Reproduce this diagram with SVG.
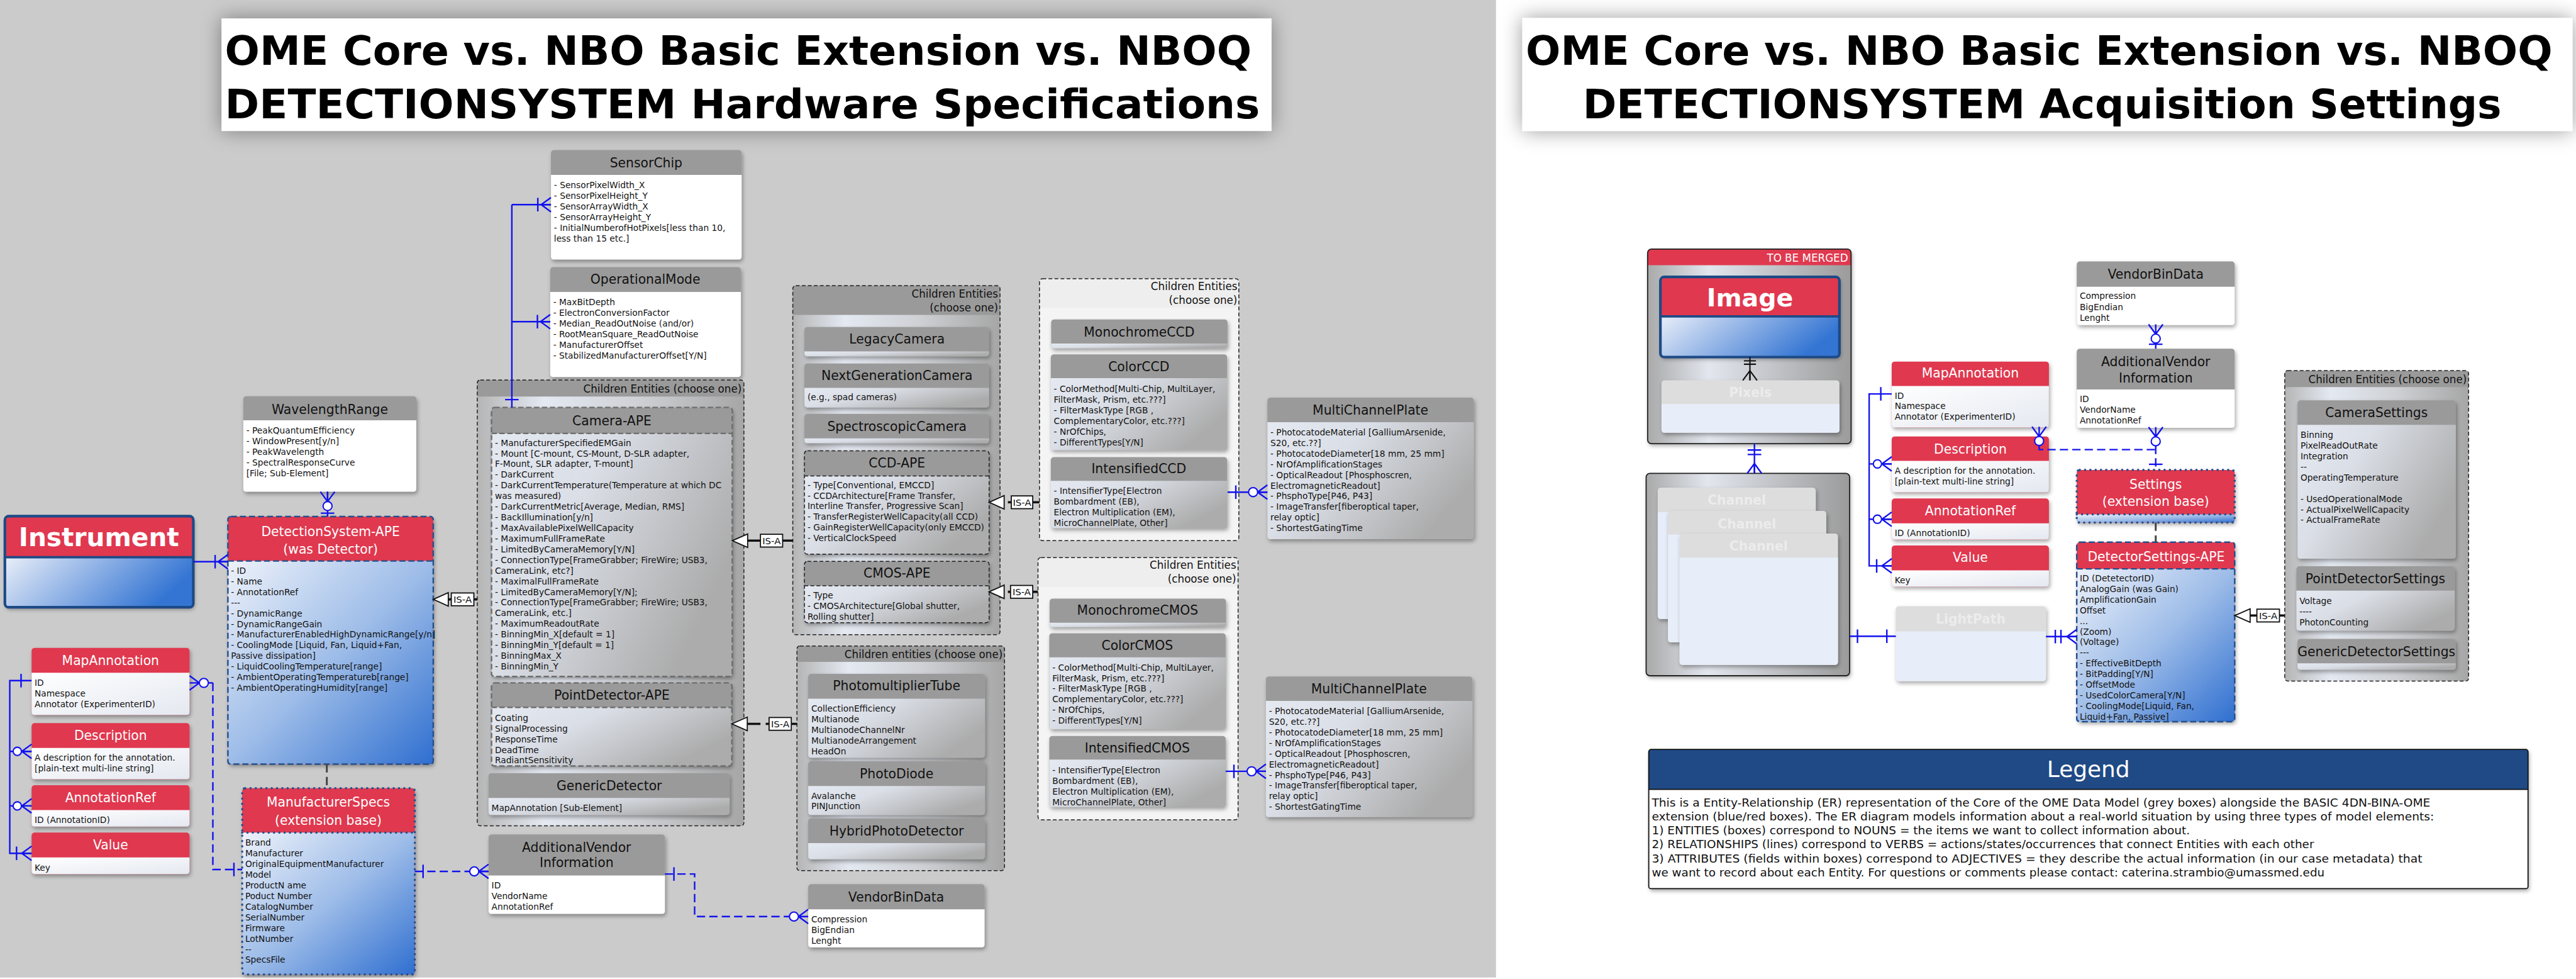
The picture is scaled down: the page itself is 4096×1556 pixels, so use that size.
<svg xmlns="http://www.w3.org/2000/svg" width="4096" height="1556" viewBox="0 0 4096 1556">
<style>
text{font-family:"DejaVu Sans","Liberation Sans",sans-serif}
.hr{fill:#e0394f}
.hg{fill:#9a9a9a}
.tw{fill:#fff;font-size:34px;text-anchor:middle}
.tb{fill:#111;font-size:34px;text-anchor:middle}
.tf{fill:#ececec;font-size:34px;font-weight:bold;text-anchor:middle}
.a{fill:#111;font-size:23px}
.ch{fill:#111;font-size:28px;text-anchor:end}
.cn{fill:none;stroke:#1212ee;stroke-width:4}
.dsh{stroke-dasharray:22 11}
.ci{fill:#fff;stroke:#1212ee;stroke-width:3.5}
.il{fill:none;stroke:#111;stroke-width:6}
.tri{fill:#fff;stroke:#111;stroke-width:3}
.lb{fill:#fff;stroke:#111;stroke-width:3}
.lt{fill:#111;font-size:25px;text-anchor:middle}
.bdB{fill:none;stroke:#1d4a86;stroke-width:7}
.bdD{fill:none;stroke:#23508c;stroke-width:4;stroke-dasharray:16 8}
.bdO{fill:none;stroke:#23508c;stroke-width:6;stroke-dasharray:0.1 14;stroke-linecap:round}
.bdG{fill:none;stroke:#6e6e6e;stroke-width:4;stroke-dasharray:14 7}
.bdK{fill:none;stroke:#222;stroke-width:2.5;stroke-dasharray:10 6}
.gd{fill:none;stroke:#444;stroke-width:5;stroke-dasharray:22 12}
.lg{fill:#111;font-size:29px}
.tt{font-weight:bold;text-anchor:middle;fill:#000}
</style>
<defs>
<linearGradient id="gB" x1="0" y1="0" x2="1" y2="1"><stop offset="0" stop-color="#eef2fa"/><stop offset="0.5" stop-color="#9dbce8"/><stop offset="1" stop-color="#2f6fd0"/></linearGradient>
<linearGradient id="gBh" x1="0" y1="0" x2="1" y2="0.3"><stop offset="0" stop-color="#e9eef8"/><stop offset="1" stop-color="#3475d3"/></linearGradient>
<linearGradient id="gG" x1="0" y1="0" x2="1" y2="0.5"><stop offset="0" stop-color="#e5e9f1"/><stop offset="0.4" stop-color="#dadee6"/><stop offset="1" stop-color="#acacac"/></linearGradient>
<linearGradient id="gCh" x1="0" y1="0" x2="1" y2="0"><stop offset="0" stop-color="#b5b5b5"/><stop offset="0.25" stop-color="#e4e9f2"/><stop offset="0.6" stop-color="#cfd1d5"/><stop offset="1" stop-color="#a6a6a6"/></linearGradient>
<linearGradient id="gM" x1="0" y1="0" x2="1" y2="0"><stop offset="0" stop-color="#a9a9a9"/><stop offset="0.3" stop-color="#e2e6ee"/><stop offset="1" stop-color="#9b9b9b"/></linearGradient>
<linearGradient id="gW" x1="0" y1="0" x2="1" y2="1"><stop offset="0" stop-color="#ffffff"/><stop offset="1" stop-color="#e4e8f0"/></linearGradient>
<filter id="sh" x="-5%" y="-5%" width="115%" height="125%"><feDropShadow dx="3" dy="6" stdDeviation="5" flood-color="#000" flood-opacity="0.35"/></filter>
<filter id="sh2" x="-5%" y="-40%" width="110%" height="180%"><feDropShadow dx="0" dy="0" stdDeviation="28" flood-color="#000" flood-opacity="0.4"/></filter>
<path id="crow" d="M0,0 L26,-19 M0,0 L26,0 M0,0 L26,19"/>
<clipPath id="dsClip"><rect x="5522" y="1441" width="420" height="474"/></clipPath>
</defs>
<g transform="scale(0.598)">
<rect x="0" y="0" width="3978" height="2598" fill="#cbcbcb"/>
<rect x="3978" y="0" width="2862" height="2598" fill="#ffffff"/>

<!-- titles -->
<g id="title-left">
<rect x="589" y="49" width="2792" height="299" fill="#fff" filter="url(#sh2)"/>
<text class="tt" x="1963" y="173" font-size="108" textLength="2730" lengthAdjust="spacingAndGlyphs">OME Core vs. NBO Basic Extension vs. NBOQ</text>
<text class="tt" x="1974" y="315" font-size="108" textLength="2752" lengthAdjust="spacingAndGlyphs">DETECTIONSYSTEM Hardware Specifications</text>
</g>
<g id="title-right">
<rect x="4048" y="48" width="2792" height="300" fill="#fff" filter="url(#sh2)"/>
<text class="tt" x="5422" y="173" font-size="108" textLength="2730" lengthAdjust="spacingAndGlyphs">OME Core vs. NBO Basic Extension vs. NBOQ</text>
<text class="tt" x="5430" y="315" font-size="106" textLength="2443" lengthAdjust="spacingAndGlyphs">DETECTIONSYSTEM Acquisition Settings</text>
</g>

<!-- LEFT PANEL NODES -->
<g id="WavelengthRange">
<rect x="647" y="1053" width="460" height="254" rx="8" class="hg" filter="url(#sh)"/>
<path d="M647,1117 H1107 V1299 Q1107,1307 1099,1307 H655 Q647,1307 647,1299 Z" fill="#fff"/>
<text class="tb" x="877" y="1100">WavelengthRange</text>
<text class="a" y="1152"><tspan x="655">- PeakQuantumEfficiency</tspan><tspan x="655" dy="28.3">- WindowPresent[y/n]</tspan><tspan x="655" dy="28.3">- PeakWavelength</tspan><tspan x="655" dy="28.3">- SpectralResponseCurve</tspan><tspan x="655" dy="28.3">[File; Sub-Element]</tspan></text>
</g>

<g id="Instrument">
<rect x="13" y="1372" width="501" height="242" rx="10" class="hr" filter="url(#sh)"/>
<path d="M13,1481 H514 V1606 Q514,1614 506,1614 H21 Q13,1614 13,1606 Z" fill="url(#gBh)"/>
<rect x="13" y="1372" width="501" height="242" rx="10" class="bdB"/>
<path d="M13,1481 H514" stroke="#1d4a86" stroke-width="6"/>
<text x="263" y="1452" font-size="68" font-weight="bold" fill="#fff" text-anchor="middle">Instrument</text>
</g>

<g id="DetectionSystem-APE">
<rect x="606" y="1373" width="546" height="658" rx="8" class="hr" filter="url(#sh)"/>
<path d="M606,1491 H1152 V2023 Q1152,2031 1144,2031 H614 Q606,2031 606,2023 Z" fill="url(#gB)"/>
<rect x="606" y="1373" width="546" height="658" rx="8" class="bdD"/>
<path d="M606,1491 H1152" class="bdD"/>
<text class="tw" x="879" y="1424" font-size="38">DetectionSystem-APE</text>
<text class="tw" x="879" y="1471" font-size="38">(was Detector)</text>
<text class="a" y="1525"><tspan x="614">- ID</tspan><tspan x="614" dy="28.3">- Name</tspan><tspan x="614" dy="28.3">- AnnotationRef</tspan><tspan x="614" dy="28.3">---</tspan><tspan x="614" dy="28.3">- DynamicRange</tspan><tspan x="614" dy="28.3">- DynamicRangeGain</tspan><tspan x="614" dy="28.3">- ManufacturerEnabledHighDynamicRange[y/n]</tspan><tspan x="614" dy="28.3">- CoolingMode [Liquid, Fan, Liquid+Fan,</tspan><tspan x="614" dy="28.3">Passive dissipation]</tspan><tspan x="614" dy="28.3">- LiquidCoolingTemperature[range]</tspan><tspan x="614" dy="28.3">- AmbientOperatingTemperatureb[range]</tspan><tspan x="614" dy="28.3">- AmbientOperatingHumidity[range]</tspan></text>
</g>

<g id="MapAnnotation-L">
<rect x="84" y="1722" width="420" height="178" rx="8" class="hr" filter="url(#sh)"/>
<path d="M84,1788 H504 V1892 Q504,1900 496,1900 H92 Q84,1900 84,1892 Z" fill="url(#gW)"/>
<text class="tw" x="294" y="1767">MapAnnotation</text>
<text class="a" y="1823"><tspan x="92">ID</tspan><tspan x="92" dy="28.3">Namespace</tspan><tspan x="92" dy="28.3">Annotator (ExperimenterID)</tspan></text>
</g>
<g id="Description-L">
<rect x="84" y="1922" width="420" height="149" rx="8" class="hr" filter="url(#sh)"/>
<path d="M84,1988 H504 V2063 Q504,2071 496,2071 H92 Q84,2071 84,2063 Z" fill="url(#gW)"/>
<text class="tw" x="294" y="1967">Description</text>
<text class="a" y="2022"><tspan x="92">A description for the annotation.</tspan><tspan x="92" dy="28.3">[plain-text multi-line string]</tspan></text>
</g>
<g id="AnnotationRef-L">
<rect x="84" y="2087" width="420" height="110" rx="8" class="hr" filter="url(#sh)"/>
<path d="M84,2153 H504 V2189 Q504,2197 496,2197 H92 Q84,2197 84,2189 Z" fill="url(#gW)"/>
<text class="tw" x="294" y="2132">AnnotationRef</text>
<text class="a" x="92" y="2188">ID (AnnotationID)</text>
</g>
<g id="Value-L">
<rect x="84" y="2213" width="420" height="110" rx="8" class="hr" filter="url(#sh)"/>
<path d="M84,2279 H504 V2315 Q504,2323 496,2323 H92 Q84,2323 84,2315 Z" fill="url(#gW)"/>
<text class="tw" x="294" y="2258">Value</text>
<text class="a" x="92" y="2314">Key</text>
</g>

<g id="ManufacturerSpecs">
<rect x="644" y="2095" width="459" height="495" rx="8" class="hr" filter="url(#sh)"/>
<path d="M644,2213 H1103 V2582 Q1103,2590 1095,2590 H652 Q644,2590 644,2582 Z" fill="url(#gB)"/>
<rect x="644" y="2095" width="459" height="495" rx="8" class="bdO"/>
<path d="M644,2213 H1103" class="bdO"/>
<text class="tw" x="873" y="2144" font-size="38">ManufacturerSpecs</text>
<text class="tw" x="873" y="2192" font-size="38">(extension base)</text>
<text class="a" y="2248"><tspan x="652">Brand</tspan><tspan x="652" dy="28.3">Manufacturer</tspan><tspan x="652" dy="28.3">OriginalEquipmentManufacturer</tspan><tspan x="652" dy="28.3">Model</tspan><tspan x="652" dy="28.3">ProductN ame</tspan><tspan x="652" dy="28.3">Poduct Number</tspan><tspan x="652" dy="28.3">CatalogNumber</tspan><tspan x="652" dy="28.3">SerialNumber</tspan><tspan x="652" dy="28.3">Firmware</tspan><tspan x="652" dy="28.3">LotNumber</tspan><tspan x="652" dy="28.3">--</tspan><tspan x="652" dy="28.3">SpecsFile</tspan></text>
</g>

<g id="SensorChip">
<rect x="1465" y="399" width="507" height="291" rx="8" class="hg" filter="url(#sh)"/>
<path d="M1465,465 H1972 V682 Q1972,690 1964,690 H1473 Q1465,690 1465,682 Z" fill="#fff"/>
<text class="tb" x="1718" y="445">SensorChip</text>
<text class="a" y="500"><tspan x="1473">- SensorPixelWidth_X</tspan><tspan x="1473" dy="28.3">- SensorPixelHeight_Y</tspan><tspan x="1473" dy="28.3">- SensorArrayWidth_X</tspan><tspan x="1473" dy="28.3">- SensorArrayHeight_Y</tspan><tspan x="1473" dy="28.3">- InitialNumberofHotPixels[less than 10,</tspan><tspan x="1473" dy="28.3">less than 15 etc.]</tspan></text>
</g>

<g id="OperationalMode">
<rect x="1463" y="710" width="507" height="292" rx="8" class="hg" filter="url(#sh)"/>
<path d="M1463,776 H1970 V994 Q1970,1002 1962,1002 H1471 Q1463,1002 1463,994 Z" fill="#fff"/>
<text class="tb" x="1716" y="755">OperationalMode</text>
<text class="a" y="811"><tspan x="1471">- MaxBitDepth</tspan><tspan x="1471" dy="28.3">- ElectronConversionFactor</tspan><tspan x="1471" dy="28.3">- Median_ReadOutNoise (and/or)</tspan><tspan x="1471" dy="28.3">- RootMeanSquare_ReadOutNoise</tspan><tspan x="1471" dy="28.3">- ManufacturerOffset</tspan><tspan x="1471" dy="28.3">- StabilizedManufacturerOffset[Y/N]</tspan></text>
</g>

<g id="Children-Detector">
<rect x="1269" y="1010" width="709" height="1185" rx="8" fill="url(#gCh)"/>
<path d="M1269,1054 V1018 Q1269,1010 1277,1010 H1970 Q1978,1010 1978,1018 V1054 Z" class="hg"/>
<rect x="1269" y="1010" width="709" height="1185" rx="8" class="bdK"/>
<text class="ch" x="1972" y="1043">Children Entities (choose one)</text>
</g>

<g id="Camera-APE">
<rect x="1307" y="1083" width="640" height="715" rx="8" class="hg" filter="url(#sh)"/>
<path d="M1307,1152 H1947 V1790 Q1947,1798 1939,1798 H1315 Q1307,1798 1307,1790 Z" fill="url(#gG)"/>
<rect x="1307" y="1083" width="640" height="715" rx="8" class="bdG"/>
<path d="M1307,1152 H1947" class="bdG"/>
<text class="tb" x="1627" y="1131" font-size="35">Camera-APE</text>
<text class="a" y="1185"><tspan x="1316">- ManufacturerSpecifiedEMGain</tspan><tspan x="1316" dy="28.3">- Mount [C-mount, CS-Mount, D-SLR adapter,</tspan><tspan x="1316" dy="28.3">F-Mount, SLR adapter, T-mount]</tspan><tspan x="1316" dy="28.3">- DarkCurrent</tspan><tspan x="1316" dy="28.3">- DarkCurrentTemperature(Temperature at which DC</tspan><tspan x="1316" dy="28.3">was measured)</tspan><tspan x="1316" dy="28.3">- DarkCurrentMetric[Average, Median, RMS]</tspan><tspan x="1316" dy="28.3">- BackIllumination[y/n]</tspan><tspan x="1316" dy="28.3">- MaxAvailablePixelWellCapacity</tspan><tspan x="1316" dy="28.3">- MaximumFullFrameRate</tspan><tspan x="1316" dy="28.3">- LimitedByCameraMemory[Y/N]</tspan><tspan x="1316" dy="28.3">- ConnectionType[FrameGrabber; FireWire; USB3,</tspan><tspan x="1316" dy="28.3">CameraLink, etc?]</tspan><tspan x="1316" dy="28.3">- MaximalFullFrameRate</tspan><tspan x="1316" dy="28.3">- LimitedByCameraMemory[Y/N];</tspan><tspan x="1316" dy="28.3">- ConnectionType[FrameGrabber; FireWire; USB3,</tspan><tspan x="1316" dy="28.3">CameraLink, etc.]</tspan><tspan x="1316" dy="28.3">- MaximumReadoutRate</tspan><tspan x="1316" dy="28.3">- BinningMin_X[default = 1]</tspan><tspan x="1316" dy="28.3">- BinningMin_Y[default = 1]</tspan><tspan x="1316" dy="28.3">- BinningMax_X</tspan><tspan x="1316" dy="28.3">- BinningMin_Y</tspan></text>
</g>

<g id="PointDetector-APE">
<rect x="1307" y="1815" width="639" height="221" rx="8" class="hg" filter="url(#sh)"/>
<path d="M1307,1880 H1946 V2028 Q1946,2036 1938,2036 H1315 Q1307,2036 1307,2028 Z" fill="url(#gG)"/>
<rect x="1307" y="1815" width="639" height="221" rx="8" class="bdG"/>
<path d="M1307,1880 H1946" class="bdG"/>
<text class="tb" x="1627" y="1860" font-size="35">PointDetector-APE</text>
<text class="a" y="1916"><tspan x="1316">Coating</tspan><tspan x="1316" dy="28.3">SignalProcessing</tspan><tspan x="1316" dy="28.3">ResponseTime</tspan><tspan x="1316" dy="28.3">DeadTime</tspan><tspan x="1316" dy="28.3">RadiantSensitivity</tspan></text>
</g>

<g id="GenericDetector">
<rect x="1299" y="2055" width="641" height="111" rx="8" class="hg" filter="url(#sh)"/>
<path d="M1299,2121 H1940 V2158 Q1940,2166 1932,2166 H1307 Q1299,2166 1299,2158 Z" fill="url(#gG)"/>
<text class="tb" x="1620" y="2101" font-size="35">GenericDetector</text>
<text class="a" x="1307" y="2156">MapAnnotation [Sub-Element]</text>
</g>

<g id="Children-Camera">
<rect x="2108" y="759" width="551" height="928" rx="8" fill="url(#gCh)"/>
<path d="M2108,837 V767 Q2108,759 2116,759 H2651 Q2659,759 2659,767 V837 Z" class="hg"/>
<rect x="2108" y="759" width="551" height="928" rx="8" class="bdK"/>
<text class="ch" x="2654" y="791">Children Entities</text>
<text class="ch" x="2654" y="827">(choose one)</text>
</g>

<g id="LegacyCamera">
<rect x="2139" y="869" width="491" height="78" rx="8" class="hg" filter="url(#sh)"/>
<path d="M2139,934 H2630 V939 Q2630,947 2622,947 H2147 Q2139,947 2139,939 Z" fill="url(#gG)"/>
<text class="tb" x="2385" y="913">LegacyCamera</text>
</g>
<g id="NextGenerationCamera">
<rect x="2139" y="966" width="491" height="117" rx="8" class="hg" filter="url(#sh)"/>
<path d="M2139,1031 H2630 V1075 Q2630,1083 2622,1083 H2147 Q2139,1083 2139,1075 Z" fill="url(#gG)"/>
<text class="tb" x="2385" y="1010">NextGenerationCamera</text>
<text class="a" x="2147" y="1064">(e.g., spad cameras)</text>
</g>
<g id="SpectroscopicCamera">
<rect x="2139" y="1100" width="491" height="78" rx="8" class="hg" filter="url(#sh)"/>
<path d="M2139,1165 H2630 V1170 Q2630,1178 2622,1178 H2147 Q2139,1178 2139,1170 Z" fill="url(#gG)"/>
<text class="tb" x="2385" y="1145">SpectroscopicCamera</text>
</g>
<g id="CCD-APE">
<rect x="2139" y="1198" width="491" height="275" rx="8" class="hg" filter="url(#sh)"/>
<path d="M2139,1265 H2630 V1465 Q2630,1473 2622,1473 H2147 Q2139,1473 2139,1465 Z" fill="url(#gG)"/>
<rect x="2139" y="1198" width="491" height="275" rx="8" class="bdK"/>
<path d="M2139,1265 H2630" class="bdK"/>
<text class="tb" x="2385" y="1242" font-size="35">CCD-APE</text>
<text class="a" y="1297"><tspan x="2147">- Type[Conventional, EMCCD]</tspan><tspan x="2147" dy="28.3">- CCDArchitecture[Frame Transfer,</tspan><tspan x="2147" dy="28.3">Interline Transfer, Progressive Scan]</tspan><tspan x="2147" dy="28.3">- TransferRegisterWellCapacity(all CCD)</tspan><tspan x="2147" dy="28.3">- GainRegisterWellCapacity(only EMCCD)</tspan><tspan x="2147" dy="28.3">- VerticalClockSpeed</tspan></text>
</g>
<g id="CMOS-APE">
<rect x="2139" y="1492" width="491" height="163" rx="8" class="hg" filter="url(#sh)"/>
<path d="M2139,1557 H2630 V1647 Q2630,1655 2622,1655 H2147 Q2139,1655 2139,1647 Z" fill="url(#gG)"/>
<rect x="2139" y="1492" width="491" height="163" rx="8" class="bdK"/>
<path d="M2139,1557 H2630" class="bdK"/>
<text class="tb" x="2385" y="1535" font-size="35">CMOS-APE</text>
<text class="a" y="1591"><tspan x="2147">- Type</tspan><tspan x="2147" dy="28.3">- CMOSArchitecture[Global shutter,</tspan><tspan x="2147" dy="28.3">Rolling shutter]</tspan></text>
</g>

<g id="Children-PointDetector">
<rect x="2119" y="1717" width="552" height="597" rx="8" fill="url(#gCh)"/>
<path d="M2119,1759 V1725 Q2119,1717 2127,1717 H2663 Q2671,1717 2671,1725 V1759 Z" class="hg"/>
<rect x="2119" y="1717" width="552" height="597" rx="8" class="bdK"/>
<text class="ch" x="2666" y="1749">Children entities (choose one)</text>
</g>
<g id="PhotomultiplierTube">
<rect x="2149" y="1791" width="470" height="223" rx="8" class="hg" filter="url(#sh)"/>
<path d="M2149,1857 H2619 V2006 Q2619,2014 2611,2014 H2157 Q2149,2014 2149,2006 Z" fill="url(#gG)"/>
<text class="tb" x="2384" y="1835">PhotomultiplierTube</text>
<text class="a" y="1892"><tspan x="2157">CollectionEfficiency</tspan><tspan x="2157" dy="28.3">Multianode</tspan><tspan x="2157" dy="28.3">MultianodeChannelNr</tspan><tspan x="2157" dy="28.3">MultianodeArrangement</tspan><tspan x="2157" dy="28.3">HeadOn</tspan></text>
</g>
<g id="PhotoDiode">
<rect x="2149" y="2023" width="470" height="143" rx="8" class="hg" filter="url(#sh)"/>
<path d="M2149,2089 H2619 V2158 Q2619,2166 2611,2166 H2157 Q2149,2166 2149,2158 Z" fill="url(#gG)"/>
<text class="tb" x="2384" y="2068">PhotoDiode</text>
<text class="a" y="2123"><tspan x="2157">Avalanche</tspan><tspan x="2157" dy="28.3">PINJunction</tspan></text>
</g>
<g id="HybridPhotoDetector">
<rect x="2149" y="2175" width="470" height="109" rx="8" class="hg" filter="url(#sh)"/>
<path d="M2149,2241 H2619 V2276 Q2619,2284 2611,2284 H2157 Q2149,2284 2149,2276 Z" fill="url(#gG)"/>
<text class="tb" x="2384" y="2220">HybridPhotoDetector</text>
</g>

<g id="Children-CCD">
<rect x="2764" y="741" width="530" height="696" rx="8" fill="#f4f4f4"/>
<path d="M2764,818 V749 Q2764,741 2772,741 H3286 Q3294,741 3294,749 V818 Z" fill="#eeeeee"/>
<rect x="2764" y="741" width="530" height="696" rx="8" class="bdK"/>
<text class="ch" x="3290" y="771">Children Entities</text>
<text class="ch" x="3290" y="807">(choose one)</text>
</g>
<g id="MonochromeCCD">
<rect x="2795" y="849" width="469" height="77" rx="8" class="hg" filter="url(#sh)"/>
<path d="M2795,913 H3264 V918 Q3264,926 3256,926 H2803 Q2795,926 2795,918 Z" fill="url(#gG)"/>
<text class="tb" x="3029" y="894">MonochromeCCD</text>
</g>
<g id="ColorCCD">
<rect x="2794" y="942" width="469" height="254" rx="8" class="hg" filter="url(#sh)"/>
<path d="M2794,1005 H3263 V1188 Q3263,1196 3255,1196 H2802 Q2794,1196 2794,1188 Z" fill="url(#gG)"/>
<text class="tb" x="3028" y="986">ColorCCD</text>
<text class="a" y="1042"><tspan x="2802">- ColorMethod[Multi-Chip, MultiLayer,</tspan><tspan x="2802" dy="28.3">FilterMask, Prism, etc.???]</tspan><tspan x="2802" dy="28.3">- FilterMaskType [RGB ,</tspan><tspan x="2802" dy="28.3">ComplementaryColor, etc.???]</tspan><tspan x="2802" dy="28.3">- NrOfChips,</tspan><tspan x="2802" dy="28.3">- DifferentTypes[Y/N]</tspan></text>
</g>
<g id="IntensifiedCCD">
<rect x="2794" y="1215" width="469" height="189" rx="8" class="hg" filter="url(#sh)"/>
<path d="M2794,1278 H3263 V1396 Q3263,1404 3255,1404 H2802 Q2794,1404 2794,1396 Z" fill="url(#gG)"/>
<text class="tb" x="3028" y="1258">IntensifiedCCD</text>
<text class="a" y="1313"><tspan x="2802">- IntensifierType[Electron</tspan><tspan x="2802" dy="28.3">Bombardment (EB),</tspan><tspan x="2802" dy="28.3">Electron Multiplication (EM),</tspan><tspan x="2802" dy="28.3">MicroChannelPlate, Other]</tspan></text>
</g>
<g id="MultiChannelPlate-1">
<rect x="3370" y="1057" width="549" height="376" rx="8" class="hg" filter="url(#sh)"/>
<path d="M3370,1122 H3919 V1425 Q3919,1433 3911,1433 H3378 Q3370,1433 3370,1425 Z" fill="url(#gG)"/>
<text class="tb" x="3644" y="1102">MultiChannelPlate</text>
<text class="a" y="1157"><tspan x="3378">- PhotocatodeMaterial [GalliumArsenide,</tspan><tspan x="3378" dy="28.3">S20, etc.??]</tspan><tspan x="3378" dy="28.3">- PhotocatodeDiameter[18 mm, 25 mm]</tspan><tspan x="3378" dy="28.3">- NrOfAmplificationStages</tspan><tspan x="3378" dy="28.3">- OpticalReadout [Phosphoscren,</tspan><tspan x="3378" dy="28.3">ElectromagneticReadout]</tspan><tspan x="3378" dy="28.3">- PhsphoType[P46, P43]</tspan><tspan x="3378" dy="28.3">- ImageTransfer[fiberoptical taper,</tspan><tspan x="3378" dy="28.3">relay optic]</tspan><tspan x="3378" dy="28.3">- ShortestGatingTime</tspan></text>
</g>

<g id="Children-CMOS">
<rect x="2760" y="1482" width="532" height="697" rx="8" fill="#f4f4f4"/>
<path d="M2760,1560 V1490 Q2760,1482 2768,1482 H3284 Q3292,1482 3292,1490 V1560 Z" fill="#eeeeee"/>
<rect x="2760" y="1482" width="532" height="697" rx="8" class="bdK"/>
<text class="ch" x="3287" y="1512">Children Entities</text>
<text class="ch" x="3287" y="1548">(choose one)</text>
</g>
<g id="MonochromeCMOS">
<rect x="2791" y="1591" width="469" height="76" rx="8" class="hg" filter="url(#sh)"/>
<path d="M2791,1655 H3260 V1659 Q3260,1667 3252,1667 H2799 Q2791,1667 2791,1659 Z" fill="url(#gG)"/>
<text class="tb" x="3025" y="1634">MonochromeCMOS</text>
</g>
<g id="ColorCMOS">
<rect x="2790" y="1683" width="469" height="255" rx="8" class="hg" filter="url(#sh)"/>
<path d="M2790,1747 H3259 V1930 Q3259,1938 3251,1938 H2798 Q2790,1938 2790,1930 Z" fill="url(#gG)"/>
<text class="tb" x="3024" y="1727">ColorCMOS</text>
<text class="a" y="1782"><tspan x="2798">- ColorMethod[Multi-Chip, MultiLayer,</tspan><tspan x="2798" dy="28.3">FilterMask, Prism, etc.???]</tspan><tspan x="2798" dy="28.3">- FilterMaskType [RGB ,</tspan><tspan x="2798" dy="28.3">ComplementaryColor, etc.???]</tspan><tspan x="2798" dy="28.3">- NrOfChips,</tspan><tspan x="2798" dy="28.3">- DifferentTypes[Y/N]</tspan></text>
</g>
<g id="IntensifiedCMOS">
<rect x="2790" y="1956" width="469" height="189" rx="8" class="hg" filter="url(#sh)"/>
<path d="M2790,2019 H3259 V2137 Q3259,2145 3251,2145 H2798 Q2790,2145 2790,2137 Z" fill="url(#gG)"/>
<text class="tb" x="3024" y="2000">IntensifiedCMOS</text>
<text class="a" y="2055"><tspan x="2798">- IntensifierType[Electron</tspan><tspan x="2798" dy="28.3">Bombardment (EB),</tspan><tspan x="2798" dy="28.3">Electron Multiplication (EM),</tspan><tspan x="2798" dy="28.3">MicroChannelPlate, Other]</tspan></text>
</g>
<g id="MultiChannelPlate-2">
<rect x="3366" y="1798" width="549" height="374" rx="8" class="hg" filter="url(#sh)"/>
<path d="M3366,1863 H3915 V2164 Q3915,2172 3907,2172 H3374 Q3366,2172 3366,2164 Z" fill="url(#gG)"/>
<text class="tb" x="3640" y="1843">MultiChannelPlate</text>
<text class="a" y="1898"><tspan x="3374">- PhotocatodeMaterial [GalliumArsenide,</tspan><tspan x="3374" dy="28.3">S20, etc.??]</tspan><tspan x="3374" dy="28.3">- PhotocatodeDiameter[18 mm, 25 mm]</tspan><tspan x="3374" dy="28.3">- NrOfAmplificationStages</tspan><tspan x="3374" dy="28.3">- OpticalReadout [Phosphoscren,</tspan><tspan x="3374" dy="28.3">ElectromagneticReadout]</tspan><tspan x="3374" dy="28.3">- PhsphoType[P46, P43]</tspan><tspan x="3374" dy="28.3">- ImageTransfer[fiberoptical taper,</tspan><tspan x="3374" dy="28.3">relay optic]</tspan><tspan x="3374" dy="28.3">- ShortestGatingTime</tspan></text>
</g>

<g id="AdditionalVendorInformation-L">
<rect x="1299" y="2218" width="469" height="211" rx="8" class="hg" filter="url(#sh)"/>
<path d="M1299,2327 H1768 V2421 Q1768,2429 1760,2429 H1307 Q1299,2429 1299,2421 Z" fill="#fff"/>
<text class="tb" x="1533" y="2265">AdditionalVendor</text>
<text class="tb" x="1533" y="2305">Information</text>
<text class="a" y="2361"><tspan x="1307">ID</tspan><tspan x="1307" dy="28.3">VendorName</tspan><tspan x="1307" dy="28.3">AnnotationRef</tspan></text>
</g>
<g id="VendorBinData-L">
<rect x="2149" y="2350" width="469" height="168" rx="8" class="hg" filter="url(#sh)"/>
<path d="M2149,2417 H2618 V2510 Q2618,2518 2610,2518 H2157 Q2149,2518 2149,2510 Z" fill="#fff"/>
<text class="tb" x="2383" y="2397">VendorBinData</text>
<text class="a" y="2452"><tspan x="2157">Compression</tspan><tspan x="2157" dy="28.3">BigEndian</tspan><tspan x="2157" dy="28.3">Lenght</tspan></text>
</g>

<!-- RIGHT PANEL NODES -->
<g id="ToBeMerged">
<rect x="4381" y="662" width="541" height="517" rx="10" fill="url(#gM)" filter="url(#sh)"/>
<path d="M4381,705 V672 Q4381,662 4391,662 H4912 Q4922,662 4922,672 V705 Z" class="hr"/>
<rect x="4381" y="662" width="541" height="517" rx="10" fill="none" stroke="#222" stroke-width="3"/>
<text x="4914" y="695" font-size="28" fill="#fff" text-anchor="end">TO BE MERGED</text>
</g>
<g id="Image">
<rect x="4415" y="736" width="476" height="213" rx="10" class="hr" filter="url(#sh)"/>
<path d="M4415,841 H4891 V941 Q4891,949 4883,949 H4423 Q4415,949 4415,941 Z" fill="url(#gBh)"/>
<rect x="4415" y="736" width="476" height="213" rx="10" class="bdB"/>
<path d="M4415,841 H4891" stroke="#1d4a86" stroke-width="6"/>
<text x="4653" y="815" font-size="66" font-weight="bold" fill="#fff" text-anchor="middle">Image</text>
</g>
<g id="Pixels">
<rect x="4418" y="1011" width="473" height="139" rx="8" fill="#dddddd" filter="url(#sh)"/>
<path d="M4418,1074 H4891 V1142 Q4891,1150 4883,1150 H4426 Q4418,1150 4418,1142 Z" fill="#e7eef9"/>
<text class="tf" x="4654" y="1055">Pixels</text>
</g>
<g id="Channels">
<rect x="4377" y="1258" width="541" height="538" rx="10" fill="url(#gM)" filter="url(#sh)"/>
<rect x="4377" y="1258" width="541" height="538" rx="10" fill="none" stroke="#222" stroke-width="3"/>
<rect x="4408" y="1296" width="420" height="349" rx="8" fill="#dddddd" filter="url(#sh)"/>
<path d="M4408,1361 H4828 V1637 Q4828,1645 4820,1645 H4416 Q4408,1645 4408,1637 Z" fill="#e7eef9"/>
<text class="tf" x="4618" y="1341">Channel</text>
<rect x="4435" y="1358" width="421" height="349" rx="8" fill="#dddddd" filter="url(#sh)"/>
<path d="M4435,1421 H4856 V1699 Q4856,1707 4848,1707 H4443 Q4435,1707 4435,1699 Z" fill="#e7eef9"/>
<text class="tf" x="4645" y="1404">Channel</text>
<rect x="4466" y="1418" width="421" height="349" rx="8" fill="#dddddd" filter="url(#sh)"/>
<path d="M4466,1482 H4887 V1759 Q4887,1767 4879,1767 H4474 Q4466,1767 4466,1759 Z" fill="#e7eef9"/>
<text class="tf" x="4676" y="1463">Channel</text>
</g>
<g id="MapAnnotation-R">
<rect x="5030" y="961" width="418" height="175" rx="8" class="hr" filter="url(#sh)"/>
<path d="M5030,1026 H5448 V1128 Q5448,1136 5440,1136 H5038 Q5030,1136 5030,1128 Z" fill="url(#gW)"/>
<text class="tw" x="5239" y="1004">MapAnnotation</text>
<text class="a" y="1060"><tspan x="5038">ID</tspan><tspan x="5038" dy="27.5">Namespace</tspan><tspan x="5038" dy="27.5">Annotator (ExperimenterID)</tspan></text>
</g>
<g id="Description-R">
<rect x="5030" y="1160" width="418" height="148" rx="8" class="hr" filter="url(#sh)"/>
<path d="M5030,1225 H5448 V1300 Q5448,1308 5440,1308 H5038 Q5030,1308 5030,1300 Z" fill="url(#gW)"/>
<text class="tw" x="5239" y="1205">Description</text>
<text class="a" y="1260"><tspan x="5038">A description for the annotation.</tspan><tspan x="5038" dy="28">[plain-text multi-line string]</tspan></text>
</g>
<g id="AnnotationRef-R">
<rect x="5030" y="1325" width="418" height="109" rx="8" class="hr" filter="url(#sh)"/>
<path d="M5030,1391 H5448 V1426 Q5448,1434 5440,1434 H5038 Q5030,1434 5030,1426 Z" fill="url(#gW)"/>
<text class="tw" x="5239" y="1370">AnnotationRef</text>
<text class="a" x="5038" y="1424">ID (AnnotationID)</text>
</g>
<g id="Value-R">
<rect x="5030" y="1450" width="418" height="109" rx="8" class="hr" filter="url(#sh)"/>
<path d="M5030,1516 H5448 V1551 Q5448,1559 5440,1559 H5038 Q5030,1559 5030,1551 Z" fill="url(#gW)"/>
<text class="tw" x="5239" y="1494">Value</text>
<text class="a" x="5038" y="1550">Key</text>
</g>
<g id="LightPath">
<rect x="5041" y="1611" width="399" height="199" rx="8" fill="#dddddd" filter="url(#sh)"/>
<path d="M5041,1678 H5440 V1802 Q5440,1810 5432,1810 H5049 Q5041,1810 5041,1802 Z" fill="#e7eef9"/>
<text class="tf" x="5240" y="1657">LightPath</text>
</g>
<g id="VendorBinData-R">
<rect x="5522" y="695" width="420" height="169" rx="8" class="hg" filter="url(#sh)"/>
<path d="M5522,762 H5942 V856 Q5942,864 5934,864 H5530 Q5522,864 5522,856 Z" fill="#fff"/>
<text class="tb" x="5732" y="741">VendorBinData</text>
<text class="a" y="795"><tspan x="5530">Compression</tspan><tspan x="5530" dy="29">BigEndian</tspan><tspan x="5530" dy="29">Lenght</tspan></text>
</g>
<g id="AdditionalVendorInformation-R">
<rect x="5522" y="927" width="420" height="210" rx="8" class="hg" filter="url(#sh)"/>
<path d="M5522,1035 H5942 V1129 Q5942,1137 5934,1137 H5530 Q5522,1137 5522,1129 Z" fill="#fff"/>
<text class="tb" x="5732" y="973">AdditionalVendor</text>
<text class="tb" x="5732" y="1016">Information</text>
<text class="a" y="1069"><tspan x="5530">ID</tspan><tspan x="5530" dy="28.6">VendorName</tspan><tspan x="5530" dy="28.6">AnnotationRef</tspan></text>
</g>
<g id="Settings">
<rect x="5522" y="1249" width="420" height="140" rx="8" class="hr" filter="url(#sh)"/>
<path d="M5522,1367 H5942 V1381 Q5942,1389 5934,1389 H5530 Q5522,1389 5522,1381 Z" fill="url(#gB)"/>
<rect x="5522" y="1249" width="420" height="140" rx="8" class="bdO"/>
<path d="M5522,1367 H5942" class="bdO"/>
<text class="tw" x="5732" y="1300" font-size="38">Settings</text>
<text class="tw" x="5732" y="1345" font-size="38">(extension base)</text>
</g>
<g id="DetectorSettings-APE">
<rect x="5522" y="1441" width="420" height="477" rx="8" class="hr" filter="url(#sh)"/>
<path d="M5522,1512 H5942 V1910 Q5942,1918 5934,1918 H5530 Q5522,1918 5522,1910 Z" fill="url(#gB)"/>
<text class="tw" x="5733" y="1491" font-size="38">DetectorSettings-APE</text>
<text class="a" y="1545" clip-path="url(#dsClip)"><tspan x="5530">ID (DetetectorID)</tspan><tspan x="5530" dy="28.3">AnalogGain (was Gain)</tspan><tspan x="5530" dy="28.3">AmplificationGain</tspan><tspan x="5530" dy="28.3">Offset</tspan><tspan x="5530" dy="28.3">...</tspan><tspan x="5530" dy="28.3">(Zoom)</tspan><tspan x="5530" dy="28.3">(Voltage)</tspan><tspan x="5530" dy="28.3">---</tspan><tspan x="5530" dy="28.3">- EffectiveBitDepth</tspan><tspan x="5530" dy="28.3">- BitPadding[Y/N]</tspan><tspan x="5530" dy="28.3">- OffsetMode</tspan><tspan x="5530" dy="28.3">- UsedColorCamera[Y/N]</tspan><tspan x="5530" dy="28.3">- CoolingMode[Liquid, Fan,</tspan><tspan x="5530" dy="28.3">Liquid+Fan, Passive]</tspan></text>
<rect x="5522" y="1441" width="420" height="477" rx="8" class="bdD"/>
<path d="M5522,1512 H5942" class="bdD"/>
</g>
<g id="Children-Settings">
<rect x="6075" y="985" width="489" height="825" rx="8" fill="url(#gCh)"/>
<path d="M6075,1029 V993 Q6075,985 6083,985 H6556 Q6564,985 6564,993 V1029 Z" class="hg"/>
<rect x="6075" y="985" width="489" height="825" rx="8" class="bdK"/>
<text class="ch" x="6559" y="1018">Children Entities (choose one)</text>
</g>
<g id="CameraSettings">
<rect x="6109" y="1064" width="421" height="421" rx="8" class="hg" filter="url(#sh)"/>
<path d="M6109,1129 H6530 V1477 Q6530,1485 6522,1485 H6117 Q6109,1485 6109,1477 Z" fill="url(#gG)"/>
<text class="tb" x="6319" y="1109">CameraSettings</text>
<text class="a" y="1164"><tspan x="6117">Binning</tspan><tspan x="6117" dy="28.3">PixelReadOutRate</tspan><tspan x="6117" dy="28.3">Integration</tspan><tspan x="6117" dy="28.3">--</tspan><tspan x="6117" dy="28.3">OperatingTemperature</tspan><tspan x="6117" dy="56.6">- UsedOperationalMode</tspan><tspan x="6117" dy="28.3">- ActualPixelWellCapacity</tspan><tspan x="6117" dy="28.3">- ActualFrameRate</tspan></text>
</g>
<g id="PointDetectorSettings">
<rect x="6106" y="1505" width="421" height="171" rx="8" class="hg" filter="url(#sh)"/>
<path d="M6106,1570 H6527 V1668 Q6527,1676 6519,1676 H6114 Q6106,1676 6106,1668 Z" fill="url(#gG)"/>
<text class="tb" x="6316" y="1550">PointDetectorSettings</text>
<text class="a" y="1605"><tspan x="6114">Voltage</tspan><tspan x="6114" dy="28.3">----</tspan><tspan x="6114" dy="28.3">PhotonCounting</tspan></text>
</g>
<g id="GenericDetectorSettings">
<rect x="6109" y="1698" width="421" height="82" rx="8" class="hg" filter="url(#sh)"/>
<path d="M6109,1763 H6530 V1772 Q6530,1780 6522,1780 H6117 Q6109,1780 6109,1772 Z" fill="url(#gG)"/>
<text class="tb" x="6319" y="1744" font-size="33">GenericDetectorSettings</text>
</g>

<g id="Legend">
<rect x="4384" y="1992" width="2338" height="370" rx="6" fill="#fff" filter="url(#sh)"/>
<path d="M4384,2098 V1998 Q4384,1992 4390,1992 H6716 Q6722,1992 6722,1998 V2098 Z" fill="#1f4a85"/>
<rect x="4384" y="1992" width="2338" height="370" rx="6" fill="none" stroke="#111" stroke-width="3"/>
<path d="M4384,2098 H6722" stroke="#111" stroke-width="3"/>
<text x="5553" y="2066" font-size="60" fill="#fff" text-anchor="middle">Legend</text>
<text class="lg" x="4392" y="2143" textLength="2070" lengthAdjust="spacingAndGlyphs">This is a Entity-Relationship (ER) representation of the Core of the OME Data Model (grey boxes) alongside the BASIC 4DN-BINA-OME</text>
<text class="lg" x="4392" y="2180" textLength="2080" lengthAdjust="spacingAndGlyphs">extension (blue/red boxes). The ER diagram models information about a real-world situation by using three types of model elements:</text>
<text class="lg" x="4392" y="2217" textLength="1431" lengthAdjust="spacingAndGlyphs">1) ENTITIES (boxes) correspond to NOUNS = the items we want to collect information about.</text>
<text class="lg" x="4392" y="2255" textLength="1761" lengthAdjust="spacingAndGlyphs">2) RELATIONSHIPS (lines) correspond to VERBS = actions/states/occurrences that connect Entities with each other</text>
<text class="lg" x="4392" y="2292" textLength="2049" lengthAdjust="spacingAndGlyphs">3) ATTRIBUTES (fields within boxes) correspond to ADJECTIVES = they describe the actual information (in our case metadata) that</text>
<text class="lg" x="4392" y="2330" textLength="1789" lengthAdjust="spacingAndGlyphs">we want to record about each Entity. For questions or comments please contact: caterina.strambio@umassmed.edu</text>
</g>

<!-- CONNECTORS -->
<g id="connectors">
<path class="cn" d="M871,1307 V1373 M853,1364 H889"/>
<use href="#crow" class="cn" transform="translate(871,1333) rotate(-90)"/>
<circle class="ci" cx="871" cy="1345" r="12"/>
<path class="cn" d="M514,1493 H606 M572,1475 V1511"/>
<use href="#crow" class="cn" transform="translate(580,1493)"/>
<path class="cn" d="M1361,544 V1083 M1361,544 H1465 M1430,526 V562 M1361,855 H1463 M1429,837 V873 M1343,1062 H1379"/>
<use href="#crow" class="cn" transform="translate(1439,544)"/>
<use href="#crow" class="cn" transform="translate(1437,855)"/>
<path class="il" d="M1192,1593 H1200 M1260,1593 H1269"/>
<polygon class="tri" points="1152,1593 1192,1575 1192,1611"/>
<rect class="lb" x="1200" y="1576" width="60" height="34"/>
<text class="lt" x="1230" y="1602">IS-A</text>
<path class="il" d="M1988,1437 H2022 M2081,1437 H2108"/>
<polygon class="tri" points="1947,1437 1988,1419 1988,1455"/>
<rect class="lb" x="2022" y="1420" width="59" height="34"/>
<text class="lt" x="2051.5" y="1446">IS-A</text>
<path class="il" d="M1987,1924 H2022 M2036,1924 H2045 M2104,1924 H2119"/>
<polygon class="tri" points="1946,1924 1987,1906 1987,1942"/>
<rect class="lb" x="2045" y="1907" width="59" height="34"/>
<text class="lt" x="2074.5" y="1933">IS-A</text>
<path class="il" d="M2680,1335 H2689 M2746,1335 H2764"/>
<polygon class="tri" points="2630,1335 2670,1317 2670,1353"/>
<rect class="lb" x="2689" y="1318" width="57" height="34"/>
<text class="lt" x="2717.5" y="1344">IS-A</text>
<path class="il" d="M2680,1573 H2687 M2746,1573 H2760"/>
<polygon class="tri" points="2630,1573 2670,1555 2670,1591"/>
<rect class="lb" x="2687" y="1556" width="59" height="34"/>
<text class="lt" x="2716.5" y="1582">IS-A</text>
<path class="cn" d="M3264,1308 H3370 M3286,1290 V1326"/>
<circle class="ci" cx="3332" cy="1308" r="12"/>
<use href="#crow" class="cn" transform="translate(3344,1308)"/>
<path class="cn" d="M3259,2050 H3366 M3281,2032 V2068"/>
<circle class="ci" cx="3328" cy="2050" r="12"/>
<use href="#crow" class="cn" transform="translate(3340,2050)"/>
<path class="gd" d="M869,2031 V2095"/>
<path class="cn" d="M84,1809 H26 V2268 H84 M26,1997 H84 M26,2142 H84 M56,1791 V1827 M44,2250 V2286"/>
<circle class="ci" cx="46" cy="1997" r="11"/>
<circle class="ci" cx="46" cy="2142" r="11"/>
<use href="#crow" class="cn" transform="translate(58,1997)"/>
<use href="#crow" class="cn" transform="translate(58,2142)"/>
<use href="#crow" class="cn" transform="translate(58,2268)"/>
<use href="#crow" class="cn" transform="translate(530,1815) scale(-1,1)"/>
<circle class="ci" cx="542" cy="1815" r="12"/>
<path class="cn" d="M554,1815 H566"/>
<path class="cn dsh" d="M566,1815 V2311 H644"/>
<path class="cn" d="M622,2293 V2329"/>
<path class="cn dsh" d="M1103,2316 H1249"/>
<path class="cn" d="M1125,2298 V2334 M1273,2316 H1299"/>
<circle class="ci" cx="1261" cy="2316" r="12"/>
<use href="#crow" class="cn" transform="translate(1273,2316)"/>
<path class="cn dsh" d="M1768,2323 H1847 V2436 H2099"/>
<path class="cn" d="M1792,2305 V2341"/>
<circle class="ci" cx="2111" cy="2436" r="12"/>
<use href="#crow" class="cn" transform="translate(2123,2436)"/>
<path d="M4653,949 V1011 M4637,959 H4669 M4637,968 H4669" fill="none" stroke="#111" stroke-width="3.5"/>
<use href="#crow" fill="none" stroke="#111" stroke-width="3.5" transform="translate(4653,985) rotate(90)"/>
<path class="cn" d="M4665,1179 V1258 M4647,1196 H4683 M4647,1208 H4683"/>
<use href="#crow" class="cn" transform="translate(4665,1232) rotate(90)"/>
<path class="cn" d="M4918,1691 H5041 M4939,1673 V1709 M5017,1673 V1709"/>
<path class="cn" d="M5440,1692 H5522 M5465,1674 V1710 M5480,1674 V1710"/>
<use href="#crow" class="cn" transform="translate(5496,1692)"/>
<path class="cn" d="M5030,1047 H4970 V1504 H5030 M4970,1233 H5030 M4970,1380 H5030 M5001,1029 V1065 M4990,1486 V1522"/>
<circle class="ci" cx="4992" cy="1233" r="11"/>
<circle class="ci" cx="4992" cy="1380" r="11"/>
<use href="#crow" class="cn" transform="translate(5004,1233)"/>
<use href="#crow" class="cn" transform="translate(5004,1380)"/>
<use href="#crow" class="cn" transform="translate(5004,1504)"/>
<use href="#crow" class="cn" transform="translate(5422,1160) rotate(-90)"/>
<circle class="ci" cx="5422" cy="1172" r="12"/>
<path class="cn dsh" d="M5422,1184 V1195 H5732"/>
<use href="#crow" class="cn" transform="translate(5732,1161) rotate(-90)"/>
<circle class="ci" cx="5732" cy="1173" r="12"/>
<path class="cn dsh" d="M5732,1185 V1249"/>
<path class="cn" d="M5714,1234 H5750"/>
<use href="#crow" class="cn" transform="translate(5732,888) rotate(-90)"/>
<circle class="ci" cx="5732" cy="900" r="12"/>
<path class="cn" d="M5732,912 V927 M5714,915 H5750"/>
<path class="gd" d="M5732,1389 V1441"/>
<path class="il" d="M5983,1636 H6001 M6061,1636 H6075"/>
<polygon class="tri" points="5942,1636 5983,1618 5983,1654"/>
<rect class="lb" x="6001" y="1619" width="60" height="34"/>
<text class="lt" x="6031" y="1645">IS-A</text>
</g>
</g>
</svg>
